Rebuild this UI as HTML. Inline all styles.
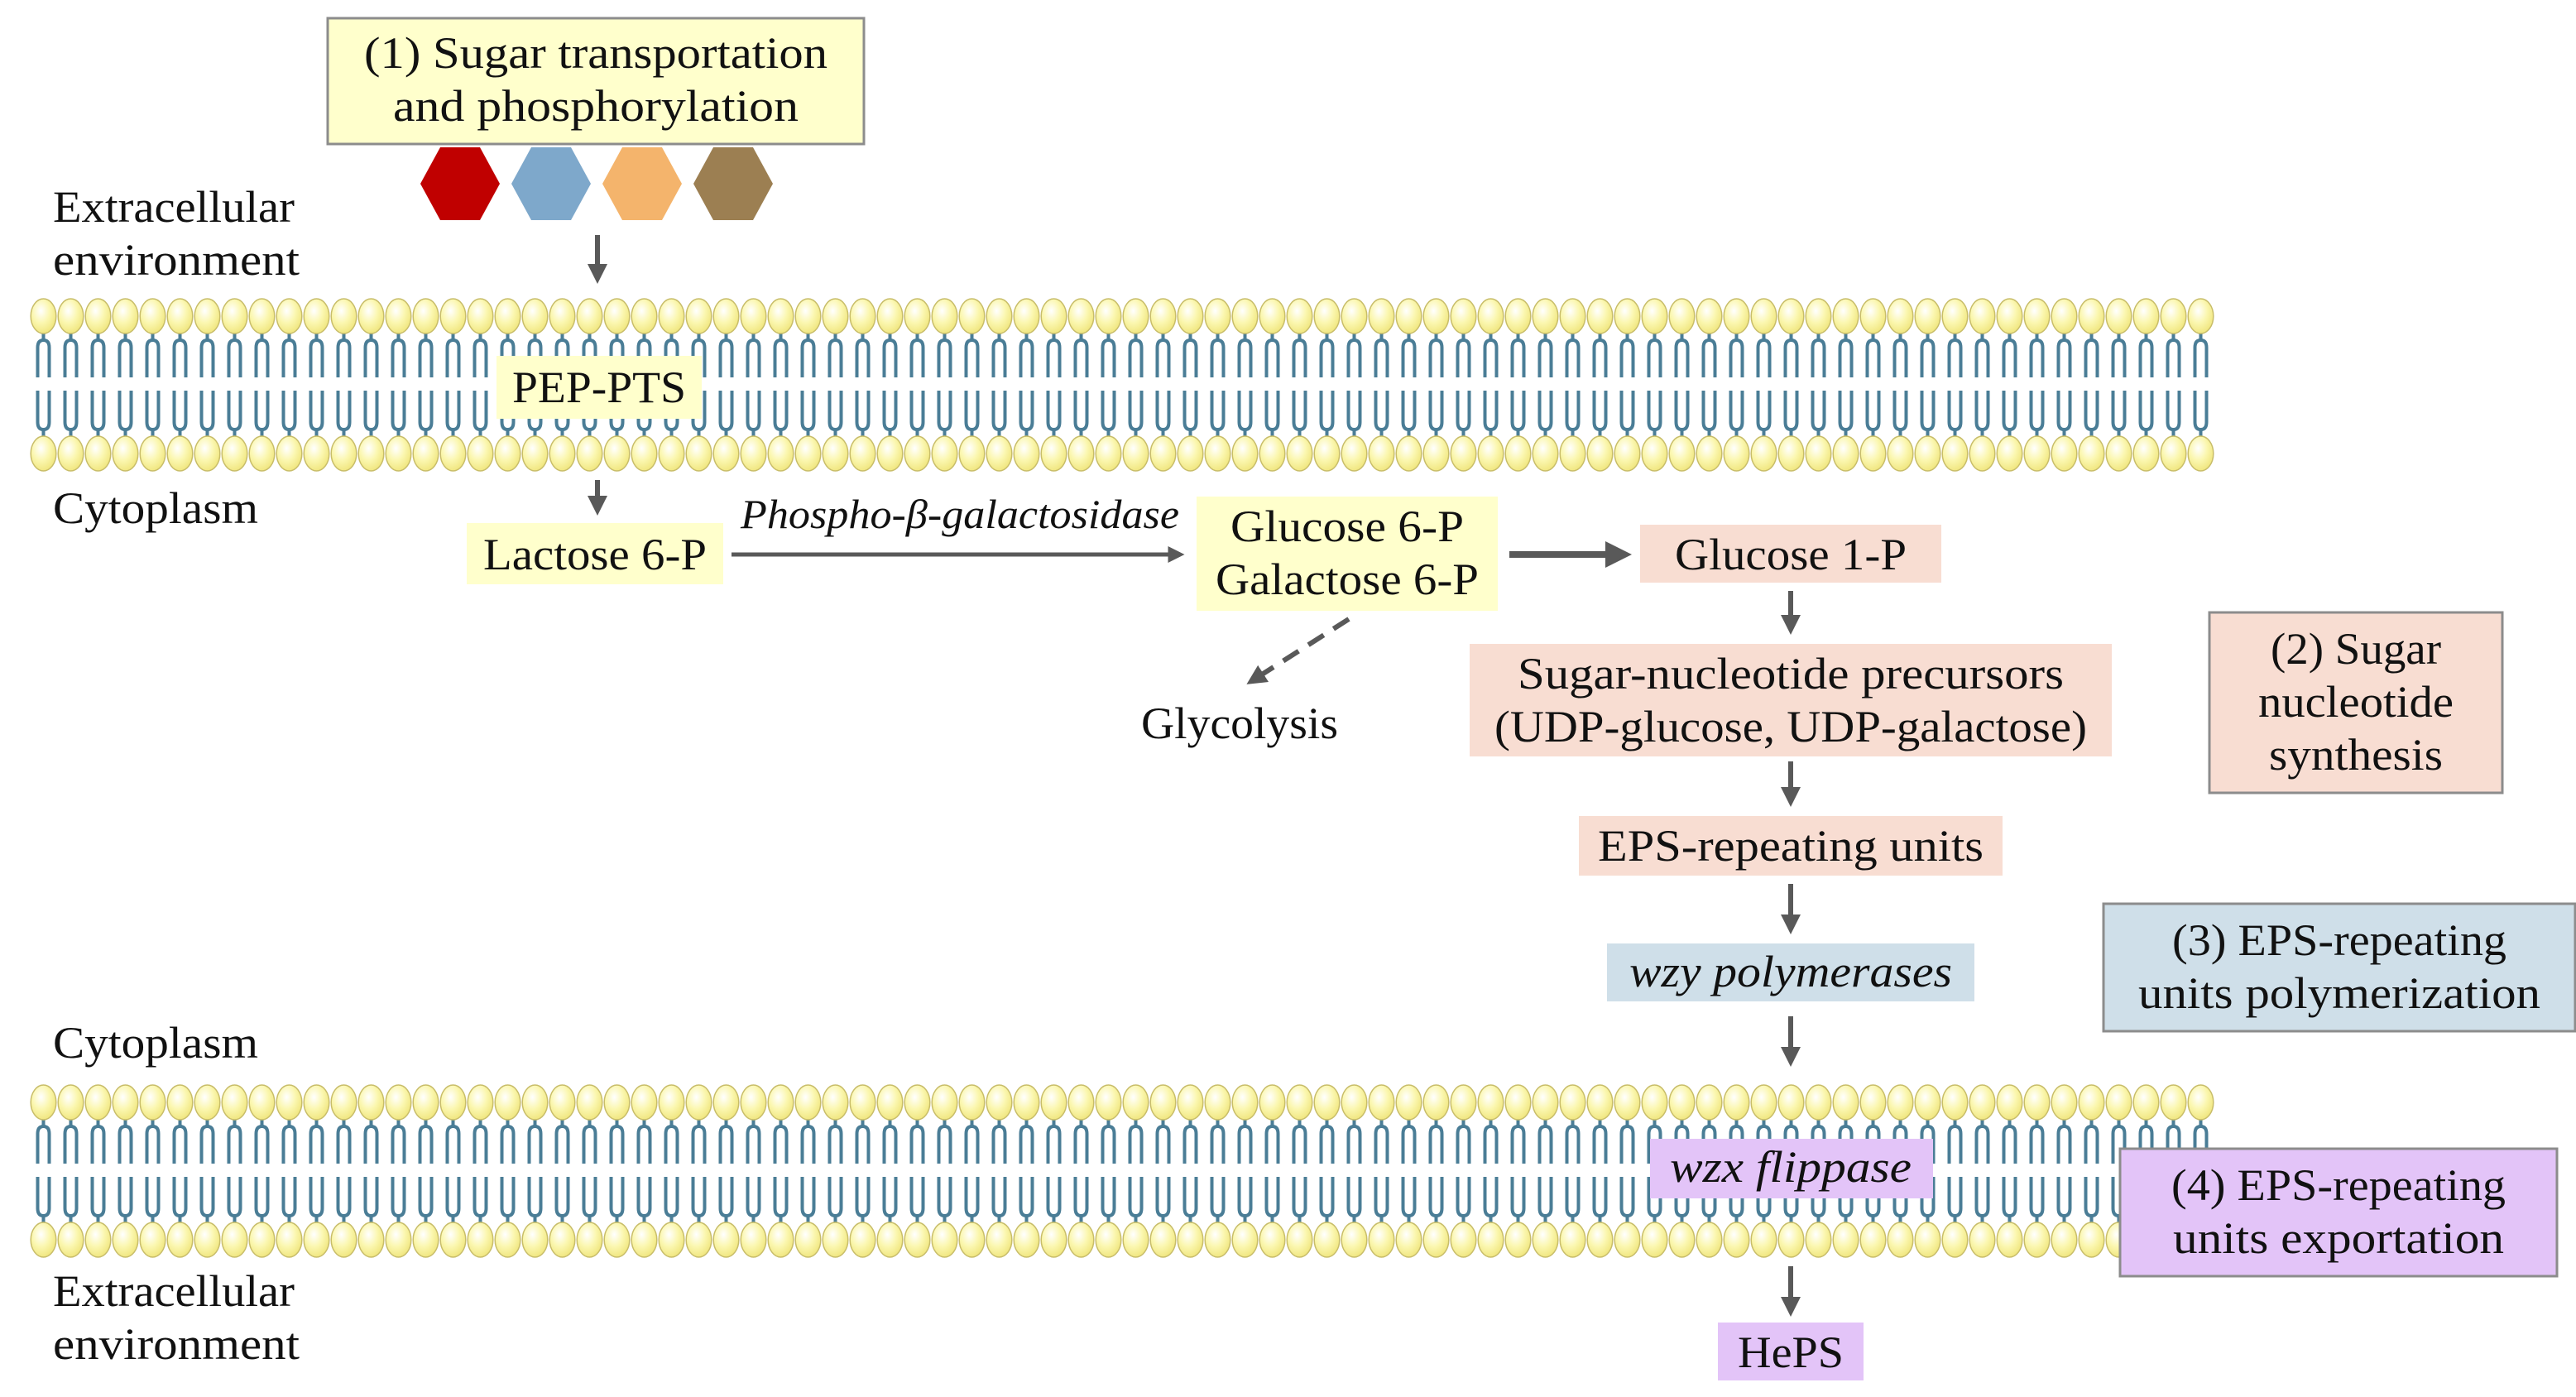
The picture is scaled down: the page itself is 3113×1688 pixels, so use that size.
<!DOCTYPE html>
<html><head><meta charset="utf-8"><style>
html,body{margin:0;padding:0;background:#fff;}
svg{display:block;}
text{font-family:"Liberation Serif",serif;fill:#111;}
</style></head><body>
<svg width="3113" height="1688" viewBox="0 0 3113 1688" xmlns="http://www.w3.org/2000/svg">
<defs>
<radialGradient id="hg" cx="0.4" cy="0.35" r="0.7">
<stop offset="0" stop-color="#ffffff"/><stop offset="0.5" stop-color="#fbf7b0"/><stop offset="1" stop-color="#efe47a"/>
</radialGradient>
<pattern id="lip" x="36" y="0" width="33" height="210" patternUnits="userSpaceOnUse">
<g fill="none" stroke="#4a7d96" stroke-width="4">
<line x1="16.5" y1="42" x2="16.5" y2="52"/>
<path d="M9.5 96 L9.5 60 Q9.5 51 16.5 51 Q23.5 51 23.5 60 L23.5 96"/>
<line x1="16.5" y1="158" x2="16.5" y2="168"/>
<path d="M9.5 112 L9.5 150 Q9.5 159 16.5 159 Q23.5 159 23.5 150 L23.5 112"/>
</g>
<ellipse cx="16.5" cy="22" rx="15.3" ry="21" fill="url(#hg)" stroke="#c8bd6a" stroke-width="1.5"/>
<ellipse cx="16.5" cy="188" rx="15.3" ry="21" fill="url(#hg)" stroke="#c8bd6a" stroke-width="1.5"/>
</pattern>
<marker id="ah" markerWidth="4" markerHeight="4" refX="2.5" refY="2" orient="auto" markerUnits="strokeWidth">
<path d="M0,0 L4,2 L0,4 z" fill="#595959"/>
</marker>
</defs>

<g transform="translate(0,360)"><rect x="36" y="0" width="2640" height="210" fill="url(#lip)"/></g>
<g transform="translate(0,1310)"><rect x="36" y="0" width="2640" height="210" fill="url(#lip)"/></g>

<g font-size="54">
<rect x="396" y="22" width="648" height="152" fill="#ffffcc" stroke="#8c8c8c" stroke-width="3"/>
<text x="720" y="82" text-anchor="middle" textLength="560" lengthAdjust="spacingAndGlyphs">(1) Sugar transportation</text>
<text x="720" y="146" text-anchor="middle" textLength="490" lengthAdjust="spacingAndGlyphs">and phosphorylation</text>

<polygon points="508,222 532,178 580,178 604,222 580,266 532,266" fill="#c00000"/>
<polygon points="618,222 642,178 690,178 714,222 690,266 642,266" fill="#7ea8cb"/>
<polygon points="728,222 752,178 800,178 824,222 800,266 752,266" fill="#f4b46c"/>
<polygon points="838,222 862,178 910,178 934,222 910,266 862,266" fill="#9c7f52"/>

<text x="64" y="268" textLength="292" lengthAdjust="spacingAndGlyphs">Extracellular</text>
<text x="64" y="332" textLength="298" lengthAdjust="spacingAndGlyphs">environment</text>
<text x="64" y="632" textLength="248" lengthAdjust="spacingAndGlyphs">Cytoplasm</text>
<text x="64" y="1278" textLength="248" lengthAdjust="spacingAndGlyphs">Cytoplasm</text>
<text x="64" y="1578" textLength="292" lengthAdjust="spacingAndGlyphs">Extracellular</text>
<text x="64" y="1642" textLength="298" lengthAdjust="spacingAndGlyphs">environment</text>

<g stroke="#595959" stroke-width="6" fill="none" marker-end="url(#ah)">
<line x1="722" y1="284" x2="722" y2="334"/>
<line x1="722" y1="580" x2="722" y2="614"/>
<line x1="884" y1="670" x2="1424" y2="670" stroke-width="5"/>
<line x1="1824" y1="670" x2="1960" y2="670" stroke-width="8"/>
<line x1="1630" y1="748" x2="1514" y2="822" stroke-dasharray="22,14"/>
<line x1="2164" y1="714" x2="2164" y2="758"/>
<line x1="2164" y1="920" x2="2164" y2="966"/>
<line x1="2164" y1="1068" x2="2164" y2="1120"/>
<line x1="2164" y1="1228" x2="2164" y2="1280"/>
<line x1="2164" y1="1530" x2="2164" y2="1582"/>
</g>

<rect x="600" y="430" width="248" height="76" fill="#ffffcc"/>
<text x="724" y="486" text-anchor="middle" textLength="210" lengthAdjust="spacingAndGlyphs">PEP-PTS</text>

<rect x="564" y="632" width="310" height="74" fill="#ffffcc"/>
<text x="719" y="688" text-anchor="middle" textLength="270" lengthAdjust="spacingAndGlyphs">Lactose 6-P</text>

<text x="1160" y="638" font-size="50" font-style="italic" text-anchor="middle" textLength="530" lengthAdjust="spacingAndGlyphs">Phospho-β-galactosidase</text>

<rect x="1446" y="600" width="364" height="138" fill="#ffffcc"/>
<text x="1628" y="654" text-anchor="middle" textLength="282" lengthAdjust="spacingAndGlyphs">Glucose 6-P</text>
<text x="1628" y="718" text-anchor="middle" textLength="318" lengthAdjust="spacingAndGlyphs">Galactose 6-P</text>

<rect x="1982" y="634" width="364" height="70" fill="#f8ddd2"/>
<text x="2164" y="688" text-anchor="middle" textLength="280" lengthAdjust="spacingAndGlyphs">Glucose 1-P</text>

<text x="1498" y="892" text-anchor="middle" textLength="238" lengthAdjust="spacingAndGlyphs">Glycolysis</text>

<rect x="1776" y="778" width="776" height="136" fill="#f8ddd2"/>
<text x="2164" y="832" text-anchor="middle" textLength="660" lengthAdjust="spacingAndGlyphs">Sugar-nucleotide precursors</text>
<text x="2164" y="896" text-anchor="middle" textLength="716" lengthAdjust="spacingAndGlyphs">(UDP-glucose, UDP-galactose)</text>

<rect x="1908" y="986" width="512" height="72" fill="#f8ddd2"/>
<text x="2164" y="1040" text-anchor="middle" textLength="466" lengthAdjust="spacingAndGlyphs">EPS-repeating units</text>

<rect x="1942" y="1140" width="444" height="70" fill="#cfdfe9"/>
<text x="2164" y="1192" font-style="italic" text-anchor="middle" textLength="390" lengthAdjust="spacingAndGlyphs">wzy polymerases</text>

<rect x="1994" y="1376" width="342" height="72" fill="#e3c4f8"/>
<text x="2164" y="1428" font-style="italic" text-anchor="middle" textLength="292" lengthAdjust="spacingAndGlyphs">wzx flippase</text>

<rect x="2076" y="1598" width="176" height="70" fill="#e3c4f8"/>
<text x="2164" y="1652" text-anchor="middle" textLength="128" lengthAdjust="spacingAndGlyphs">HePS</text>

<rect x="2670" y="740" width="354" height="218" fill="#f8ddd2" stroke="#8c8c8c" stroke-width="3"/>
<text x="2847" y="802" text-anchor="middle" textLength="206" lengthAdjust="spacingAndGlyphs">(2) Sugar</text>
<text x="2847" y="866" text-anchor="middle" textLength="236" lengthAdjust="spacingAndGlyphs">nucleotide</text>
<text x="2847" y="930" text-anchor="middle" textLength="210" lengthAdjust="spacingAndGlyphs">synthesis</text>

<rect x="2542" y="1092" width="570" height="154" fill="#cfdfe9" stroke="#8c8c8c" stroke-width="3"/>
<text x="2827" y="1154" text-anchor="middle" textLength="404" lengthAdjust="spacingAndGlyphs">(3) EPS-repeating</text>
<text x="2827" y="1218" text-anchor="middle" textLength="486" lengthAdjust="spacingAndGlyphs">units polymerization</text>

<rect x="2562" y="1388" width="528" height="154" fill="#e3c4f8" stroke="#8c8c8c" stroke-width="3"/>
<text x="2826" y="1450" text-anchor="middle" textLength="404" lengthAdjust="spacingAndGlyphs">(4) EPS-repeating</text>
<text x="2826" y="1514" text-anchor="middle" textLength="400" lengthAdjust="spacingAndGlyphs">units exportation</text>
</g>
</svg>
</body></html>
